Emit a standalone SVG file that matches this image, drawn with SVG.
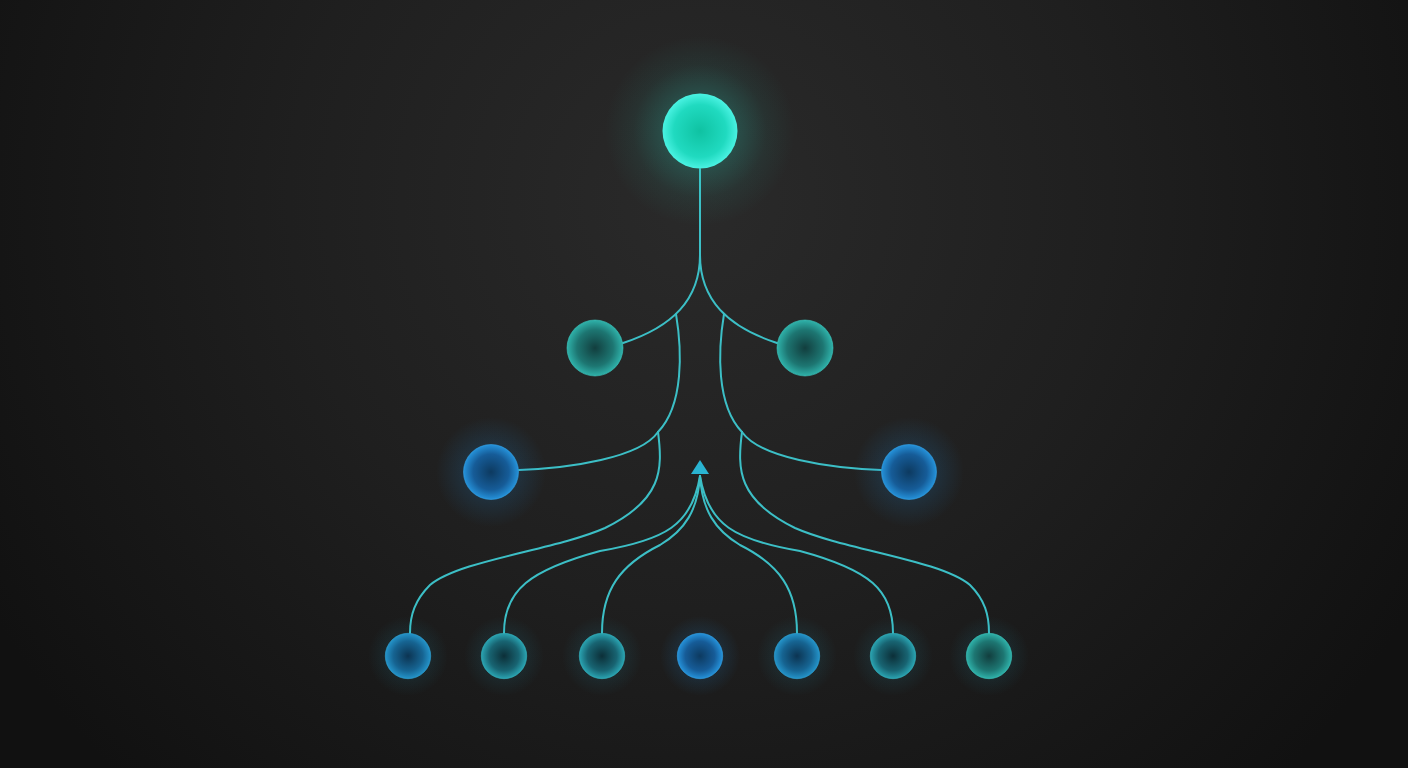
<svg xmlns="http://www.w3.org/2000/svg" width="1408" height="768" viewBox="0 0 1408 768">
  <defs>
    <radialGradient id="bg" cx="700" cy="200" r="820" gradientUnits="userSpaceOnUse">
      <stop offset="0" stop-color="#2a2a2a"/>
      <stop offset="0.5" stop-color="#1f1f1f"/>
      <stop offset="1" stop-color="#111111"/>
    </radialGradient>
    <radialGradient id="gTop" cx="0.5" cy="0.5" r="0.5">
      <stop offset="0" stop-color="#0fc2a2"/>
      <stop offset="0.7" stop-color="#20dac0"/>
      <stop offset="1" stop-color="#4af2e2"/>
    </radialGradient>
    <radialGradient id="gMid" cx="0.5" cy="0.5" r="0.5">
      <stop offset="0" stop-color="#123e3e"/>
      <stop offset="0.65" stop-color="#1d7672"/>
      <stop offset="1" stop-color="#2fb2aa"/>
    </radialGradient>
    <radialGradient id="gBlue" cx="0.5" cy="0.5" r="0.5">
      <stop offset="0" stop-color="#0d3a60"/>
      <stop offset="0.65" stop-color="#165c98"/>
      <stop offset="1" stop-color="#2592da"/>
    </radialGradient>
    <radialGradient id="gTeal" cx="0.5" cy="0.5" r="0.5">
      <stop offset="0" stop-color="#0c2f38"/>
      <stop offset="0.65" stop-color="#186472"/>
      <stop offset="1" stop-color="#2aa4b2"/>
    </radialGradient>
    <radialGradient id="gSky" cx="0.5" cy="0.5" r="0.5">
      <stop offset="0" stop-color="#0c3452"/>
      <stop offset="0.65" stop-color="#166492"/>
      <stop offset="1" stop-color="#2494ca"/>
    </radialGradient>
    <radialGradient id="glowTop" cx="0.5" cy="0.5" r="0.5">
      <stop offset="0" stop-color="#2de0c8" stop-opacity="0.5"/>
      <stop offset="0.4" stop-color="#2de0c8" stop-opacity="0.2"/>
      <stop offset="0.7" stop-color="#2de0c8" stop-opacity="0.06"/>
      <stop offset="1" stop-color="#2de0c8" stop-opacity="0"/>
    </radialGradient>
    <radialGradient id="glowBlue" cx="0.5" cy="0.5" r="0.5">
      <stop offset="0" stop-color="#1f8ad8" stop-opacity="0.3"/>
      <stop offset="1" stop-color="#1f8ad8" stop-opacity="0"/>
    </radialGradient>
    <radialGradient id="glowTeal" cx="0.5" cy="0.5" r="0.5">
      <stop offset="0" stop-color="#22a0c0" stop-opacity="0.22"/>
      <stop offset="1" stop-color="#22a0c0" stop-opacity="0"/>
    </radialGradient>
  </defs>
  <style>
    .edge { fill: none; stroke: #3cbfc6; stroke-width: 2; stroke-linecap: round; }
    .rim { stroke-width: 1; stroke-opacity: 0.6; }
  </style>
  <rect width="1408" height="768" fill="url(#bg)"/>

  <g id="connectors">
    <path class="edge" d="M700,169 L700,255"/>
    <path class="edge" d="M700,255 C700,300 672,327 623,343"/>
    <path class="edge" d="M700,255 C700,300 728,327 777,343"/>
    <path class="edge" d="M676,314 C682,350 684,405 658,432"/>
    <path class="edge" d="M724,314 C718,350 716,405 742,432"/>
    <path class="edge" d="M658,432 C640,458 570,468 519,470"/>
    <path class="edge" d="M742,432 C760,458 830,468 881,470"/>
    <path class="edge" d="M658,432 C663,470 662,500 605,528 C555,550 460,560 430,585 C415,600 410,615 410,633"/>
    <path class="edge" d="M742,432 C737,470 738,500 795,528 C845,550 940,560 970,585 C985,600 989,615 989,633"/>
    <path class="edge" d="M504,633 C504,590 530,570 600,551 C665,540 692,525 700,476"/>
    <path class="edge" d="M602,633 C602,590 620,565 660,545 C685,530 698,510 700,476"/>
    <path class="edge" d="M797,633 C797,590 780,565 740,545 C715,530 702,510 700,476"/>
    <path class="edge" d="M893,633 C893,590 870,570 800,551 C735,540 708,525 700,476"/>
    <path d="M700,460 L709,474 L691,474 Z" fill="#2ab4d2"/>
  </g>

  <g id="node-root">
    <circle cx="700" cy="131" r="95" fill="url(#glowTop)"/>
    <circle cx="700" cy="131" r="37.5" fill="url(#gTop)"/>
  </g>
  <g id="node-mid-left">
    <circle cx="595" cy="348" r="28" fill="url(#gMid)" class="rim" stroke="#3cc4bc"/>
  </g>
  <g id="node-mid-right">
    <circle cx="805" cy="348" r="28" fill="url(#gMid)" class="rim" stroke="#3cc4bc"/>
  </g>
  <g id="node-blue-left">
    <circle cx="491" cy="472" r="55" fill="url(#glowBlue)"/>
    <circle cx="491" cy="472" r="27.5" fill="url(#gBlue)" class="rim" stroke="#34a2e6"/>
  </g>
  <g id="node-blue-right">
    <circle cx="909" cy="472" r="55" fill="url(#glowBlue)"/>
    <circle cx="909" cy="472" r="27.5" fill="url(#gBlue)" class="rim" stroke="#34a2e6"/>
  </g>
  <g id="node-b1">
    <circle cx="408" cy="656" r="40" fill="url(#glowTeal)"/>
    <circle cx="408" cy="656" r="22.7" fill="url(#gSky)" class="rim" stroke="#30a4d6"/>
  </g>
  <g id="node-b2">
    <circle cx="504" cy="656" r="40" fill="url(#glowTeal)"/>
    <circle cx="504" cy="656" r="22.7" fill="url(#gTeal)" class="rim" stroke="#34b4c0"/>
  </g>
  <g id="node-b3">
    <circle cx="602" cy="656" r="40" fill="url(#glowTeal)"/>
    <circle cx="602" cy="656" r="22.7" fill="url(#gTeal)" class="rim" stroke="#34b4c0"/>
  </g>
  <g id="node-b4">
    <circle cx="700" cy="656" r="40" fill="url(#glowBlue)"/>
    <circle cx="700" cy="656" r="22.7" fill="url(#gBlue)" class="rim" stroke="#34a2e6"/>
  </g>
  <g id="node-b5">
    <circle cx="797" cy="656" r="40" fill="url(#glowTeal)"/>
    <circle cx="797" cy="656" r="22.7" fill="url(#gSky)" class="rim" stroke="#30a4d6"/>
  </g>
  <g id="node-b6">
    <circle cx="893" cy="656" r="40" fill="url(#glowTeal)"/>
    <circle cx="893" cy="656" r="22.7" fill="url(#gTeal)" class="rim" stroke="#34b4c0"/>
  </g>
  <g id="node-b7">
    <circle cx="989" cy="656" r="40" fill="url(#glowTeal)"/>
    <circle cx="989" cy="656" r="22.7" fill="url(#gMid)" class="rim" stroke="#3cc4bc"/>
  </g>
</svg>
